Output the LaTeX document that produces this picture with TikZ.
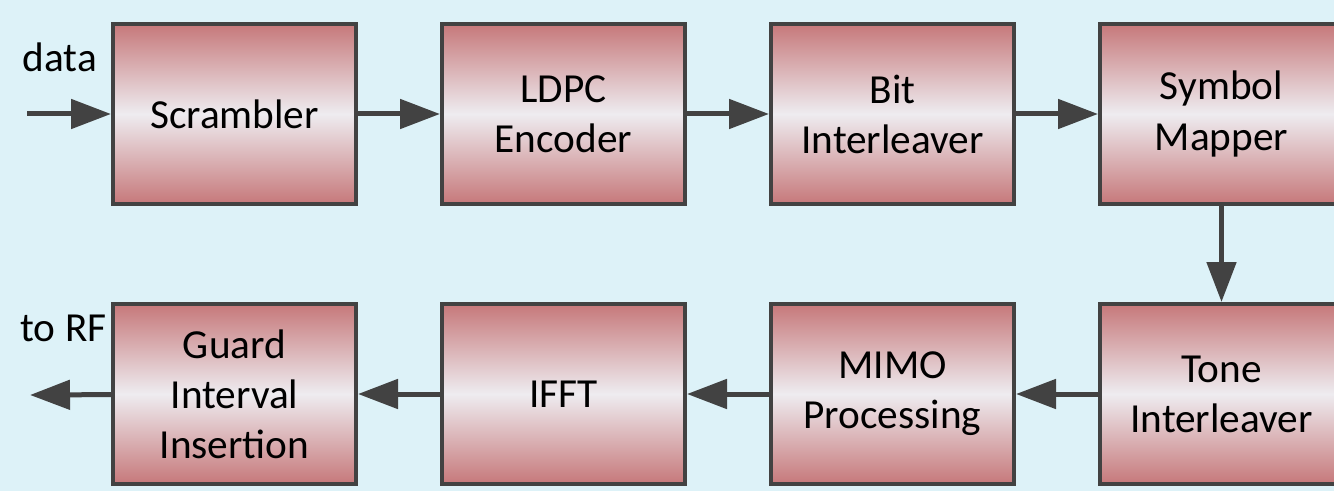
\documentclass[tikz,border=0pt]{standalone}
\usepackage{fontspec}
\setmainfont{Carlito}
\usetikzlibrary{positioning,arrows.meta}
\definecolor{bgblue}{RGB}{221,242,248}
\definecolor{rose}{RGB}{198,120,122}
\definecolor{pale}{RGB}{238,236,240}
\definecolor{edge}{RGB}{66,66,66}
\begin{document}
\begin{tikzpicture}[
    blockbox/.style={draw=edge,line width=0.08cm,minimum width=4.86cm,minimum height=3.6cm,
        top color=rose,bottom color=rose,middle color=pale,align=center,
        font=\fontsize{23.5}{28.5}\selectfont},
    lbl/.style={font=\fontsize{23.5}{28.5}\selectfont},
    flow/.style={draw=edge,line width=0.1cm,-{Triangle[length=0.8cm,width=0.58cm]}},
    node distance=1.64cm]
                \fill[bgblue] (0,0) rectangle (26.68,-9.82);
                \useasboundingbox (0,0) rectangle (26.68,-9.82);
                \node[blockbox] (scr) at (4.69,-2.28) {Scrambler};
                \node[blockbox,right=of scr] (ldpc) {LDPC\\Encoder};
                \node[blockbox,right=of ldpc] (bil) {Bit\\Interleaver};
                \node[blockbox,right=of bil] (sym) {Symbol\\Mapper};
                \node[blockbox,below=1.92cm of sym] (til) {Tone\\Interleaver};
                \node[blockbox,left=of til] (mimo) {MIMO\\Processing};
                \node[blockbox,left=of mimo] (ifft) {IFFT};
                \node[blockbox,left=of ifft] (gi) {Guard\\Interval\\Insertion};
                \node[lbl] (din) at (1.2,-1.14) {data};
                \node[lbl] (torf) at (1.27,-6.56) {to RF};
                \coordinate (src) at (0.54,-2.28);
                \coordinate (dst) at (0.6,-7.9);
                \draw[flow] (src) -- (scr);
                \draw[flow] (scr) -- (ldpc);
                \draw[flow] (ldpc) -- (bil);
                \draw[flow] (bil) -- (sym);
                \draw[flow] (sym) -- (til);
                \draw[flow] (til) -- (mimo);
                \draw[flow] (mimo) -- (ifft);
                \draw[flow] (ifft) -- (gi);
                \draw[flow] (gi) -- (dst);
            \end{tikzpicture}
\end{document}
